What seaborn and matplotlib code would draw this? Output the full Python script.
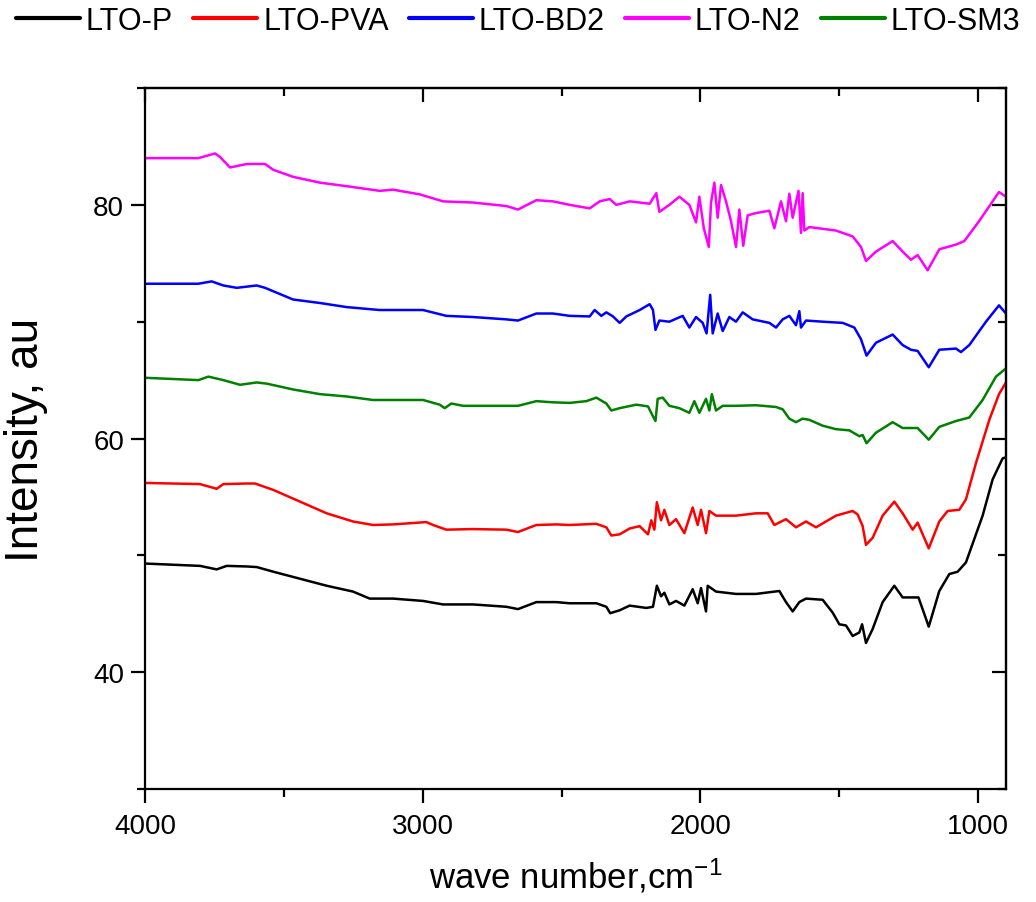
import numpy as np
import pandas as pd
import matplotlib
matplotlib.use("Agg")
import matplotlib.pyplot as plt
import seaborn as sns
from matplotlib.ticker import MultipleLocator, NullFormatter
from matplotlib.lines import Line2D

# ---- data ----
series_names = ["LTO-P", "LTO-PVA", "LTO-BD2", "LTO-N2", "LTO-SM3"]
series_colors = ["#000000", "#ff0000", "#0000ff", "#ff00ff", "#008000"]

lto_p_x = [4000, 3802, 3742, 3706, 3634, 3598, 3538, 3442, 3346, 3251, 3191, 3107, 2999, 2927, 2819,
           2699, 2657, 2591, 2519, 2471, 2375, 2339, 2325, 2291, 2255, 2195, 2171, 2157, 2142, 2130,
           2112, 2088, 2058, 2028, 2010, 1998, 1980, 1974, 1944, 1872, 1800, 1716, 1692, 1668, 1644,
           1620, 1560, 1524, 1500, 1476, 1452, 1428, 1418, 1404, 1380, 1344, 1302, 1272, 1236, 1215,
           1178, 1140, 1104, 1074, 1044, 984, 948, 912, 900]
lto_p_y = [49.3, 49.1, 48.8, 49.1, 49.05, 49.0, 48.6, 48.0, 47.4, 46.9, 46.3, 46.3, 46.1, 45.8, 45.8,
           45.6, 45.4, 46.0, 46.0, 45.9, 45.9, 45.6, 45.05, 45.3, 45.7, 45.5, 45.6, 47.4, 46.5, 46.8,
           45.8, 46.1, 45.7, 47.1, 45.9, 47.2, 45.2, 47.4, 46.9, 46.7, 46.7, 46.95, 46.0, 45.2, 46.0,
           46.3, 46.2, 45.1, 44.1, 44.0, 43.1, 43.4, 44.1, 42.5, 43.7, 46.0, 47.4, 46.4, 46.4, 46.4,
           43.9, 46.95, 48.4, 48.6, 49.4, 53.4, 56.5, 58.3, 58.4]

lto_pva_x = [4000, 3802, 3742, 3718, 3634, 3604, 3538, 3442, 3346, 3251, 3179, 3107, 2987, 2963, 2915,
             2819, 2699, 2657, 2591, 2519, 2471, 2375, 2339, 2321, 2291, 2255, 2219, 2189, 2177, 2166,
             2157, 2142, 2130, 2112, 2088, 2058, 2028, 2010, 1998, 1980, 1968, 1944, 1872, 1800, 1758,
             1734, 1692, 1656, 1620, 1584, 1512, 1452, 1434, 1416, 1404, 1380, 1344, 1302, 1272, 1236,
             1218, 1178, 1140, 1110, 1068, 1044, 1008, 960, 925, 900]
lto_pva_y = [56.2, 56.1, 55.7, 56.1, 56.15, 56.15, 55.6, 54.6, 53.6, 52.9, 52.6, 52.65, 52.85, 52.6, 52.2,
             52.25, 52.2, 52.0, 52.6, 52.65, 52.6, 52.7, 52.4, 51.7, 51.8, 52.3, 52.5, 51.8, 53.0, 52.2,
             54.55, 53.0, 53.9, 52.6, 53.1, 51.9, 54.1, 52.6, 53.9, 51.9, 53.8, 53.4, 53.4, 53.6, 53.6,
             52.6, 53.1, 52.4, 52.9, 52.4, 53.4, 53.8, 53.5, 52.5, 50.9, 51.5, 53.4, 54.6, 53.6, 52.2,
             52.8, 50.6, 52.9, 53.8, 53.9, 54.8, 57.9, 61.6, 63.8, 64.8]

lto_bd2_x = [4000, 3808, 3760, 3718, 3670, 3598, 3568, 3467, 3370, 3274, 3155, 2999, 2915, 2819, 2699,
             2657, 2591, 2531, 2471, 2399, 2381, 2357, 2339, 2315, 2291, 2267, 2219, 2183, 2171, 2162,
             2148, 2112, 2064, 2040, 2016, 1992, 1978, 1965, 1956, 1938, 1920, 1896, 1872, 1848, 1812,
             1752, 1728, 1704, 1680, 1656, 1644, 1638, 1620, 1560, 1488, 1446, 1422, 1402, 1368, 1308,
             1272, 1242, 1218, 1178, 1140, 1080, 1062, 1032, 972, 925, 900]
lto_bd2_y = [73.25, 73.25, 73.45, 73.1, 72.9, 73.1, 72.9, 71.9, 71.6, 71.25, 71.0, 71.0, 70.5, 70.4, 70.2,
             70.1, 70.7, 70.7, 70.5, 70.45, 71.0, 70.5, 70.8, 70.45, 69.9, 70.45, 71.0, 71.5, 71.0, 69.3,
             70.1, 70.0, 70.5, 69.5, 70.4, 69.9, 69.0, 72.3, 69.0, 70.7, 69.2, 70.4, 70.0, 70.8, 70.2,
             69.9, 69.5, 70.2, 70.5, 69.7, 70.9, 69.5, 70.1, 70.0, 69.9, 69.5, 68.5, 67.1, 68.2, 68.9,
             68.0, 67.6, 67.5, 66.1, 67.6, 67.7, 67.4, 68.0, 70.0, 71.4, 70.7]

lto_n2_x = [4000, 3808, 3748, 3730, 3694, 3634, 3568, 3538, 3467, 3370, 3274, 3155, 3107, 3011, 2927,
            2819, 2699, 2657, 2591, 2531, 2471, 2399, 2363, 2327, 2303, 2255, 2183, 2159, 2148, 2112,
            2076, 2040, 2016, 2004, 1988, 1970, 1962, 1950, 1938, 1926, 1908, 1890, 1872, 1860, 1846,
            1830, 1800, 1752, 1734, 1710, 1692, 1680, 1668, 1647, 1638, 1632, 1626, 1608, 1512, 1452,
            1422, 1404, 1368, 1308, 1272, 1242, 1218, 1182, 1140, 1080, 1050, 997, 925, 900]
lto_n2_y = [84.0, 84.0, 84.4, 84.1, 83.2, 83.5, 83.5, 83.0, 82.4, 81.9, 81.6, 81.2, 81.3, 80.9, 80.3,
            80.2, 79.9, 79.6, 80.4, 80.3, 80.0, 79.7, 80.3, 80.5, 80.0, 80.3, 80.1, 81.0, 79.4, 80.0,
            80.7, 80.0, 78.5, 80.7, 78.0, 76.4, 80.2, 81.9, 78.9, 81.7, 80.3, 78.6, 76.4, 79.6, 76.5,
            79.1, 79.3, 79.5, 78.0, 80.3, 78.6, 80.95, 78.9, 81.2, 77.6, 81.0, 77.8, 78.1, 77.8, 77.3,
            76.4, 75.2, 76.0, 76.9, 76.0, 75.3, 75.7, 74.4, 76.2, 76.6, 76.9, 78.6, 81.1, 80.7]

lto_sm3_x = [4000, 3808, 3772, 3718, 3658, 3598, 3562, 3467, 3370, 3274, 3179, 2999, 2939, 2921, 2897,
             2855, 2699, 2657, 2591, 2531, 2471, 2411, 2375, 2339, 2321, 2291, 2231, 2189, 2171, 2162,
             2154, 2136, 2112, 2076, 2040, 2022, 2004, 1980, 1968, 1959, 1944, 1920, 1872, 1800, 1728,
             1704, 1680, 1656, 1632, 1608, 1560, 1512, 1464, 1428, 1416, 1402, 1368, 1308, 1272, 1218,
             1178, 1140, 1080, 1032, 984, 936, 900]
lto_sm3_y = [65.2, 65.0, 65.3, 65.0, 64.6, 64.8, 64.7, 64.2, 63.8, 63.6, 63.3, 63.3, 62.9, 62.6, 63.0,
             62.8, 62.8, 62.8, 63.2, 63.1, 63.05, 63.2, 63.5, 63.0, 62.4, 62.6, 62.9, 62.75, 61.9, 61.5,
             63.4, 63.5, 62.8, 62.6, 62.2, 63.2, 62.2, 63.4, 62.4, 63.8, 62.4, 62.8, 62.8, 62.85, 62.7,
             62.5, 61.7, 61.4, 61.7, 61.6, 61.1, 60.8, 60.7, 60.2, 60.3, 59.6, 60.5, 61.4, 60.9, 60.9,
             59.9, 61.0, 61.5, 61.8, 63.3, 65.3, 66.0]

x_major_ticks = [4000, 3000, 2000, 1000]
y_major_ticks = [40, 60, 80]
x_label = r"wave number,cm$^{\mathregular{-1}}$"
y_label = "Intensity, au"

# ---- long-form table ----
xs = [lto_p_x, lto_pva_x, lto_bd2_x, lto_n2_x, lto_sm3_x]
ys = [lto_p_y, lto_pva_y, lto_bd2_y, lto_n2_y, lto_sm3_y]
frames = [pd.DataFrame({"wn": x, "I": y, "sample": n}) for n, x, y in zip(series_names, xs, ys)]
df = pd.concat(frames, ignore_index=True)

sns.set_theme(style="ticks")
plt.rcParams["font.family"] = ["Liberation Sans", "DejaVu Sans"]
plt.rcParams["text.color"] = "black"
plt.rcParams["axes.labelcolor"] = "black"
plt.rcParams["xtick.color"] = "black"
plt.rcParams["ytick.color"] = "black"
plt.rcParams["mathtext.default"] = "regular"

fig = plt.figure(figsize=(10.36, 9.03), dpi=100)
ax = fig.add_axes([0.140, 0.1251, 0.831, 0.7763])

sns.lineplot(data=df, x="wn", y="I", hue="sample", hue_order=series_names,
             palette=dict(zip(series_names, series_colors)), estimator=None,
             linewidth=1.8, ax=ax, legend=False)

ax.set_xlim(4000, 900)
ax.set_ylim(30, 90)
ax.set_xticks(x_major_ticks)
ax.set_yticks(y_major_ticks)
ax.xaxis.set_minor_locator(MultipleLocator(500))
ax.yaxis.set_minor_locator(MultipleLocator(10))
ax.tick_params(which="major", direction="out", length=10, width=1.6, labelsize=20,
               color="black", labelcolor="black")
ax.tick_params(which="minor", direction="out", length=6, width=1.6, color="black")
ax.tick_params(axis="x", pad=7)
ax.tick_params(axis="y", pad=5)
for s in ax.spines.values():
    s.set_linewidth(1.6)
    s.set_color("black")
    s.set_visible(True)

# mirrored inward ticks on top and right
secx = ax.secondary_xaxis("top")
secx.set_xticks(x_major_ticks)
secx.xaxis.set_minor_locator(MultipleLocator(500))
secx.xaxis.set_major_formatter(NullFormatter())
secx.tick_params(which="major", direction="in", length=10, width=1.6, color="black")
secx.tick_params(which="minor", direction="in", length=6, width=1.6, color="black")
secx.spines["top"].set_linewidth(1.6)

secy = ax.secondary_yaxis("right")
secy.set_yticks(y_major_ticks)
secy.yaxis.set_minor_locator(MultipleLocator(10))
secy.yaxis.set_major_formatter(NullFormatter())
secy.tick_params(which="major", direction="in", length=10, width=1.6, color="black")
secy.tick_params(which="minor", direction="in", length=6, width=1.6, color="black")
secy.spines["right"].set_linewidth(1.6)

ax.set_xlabel(x_label, fontsize=25, labelpad=12, color="black")
ax.set_ylabel(y_label, fontsize=33, color="black")
ax.yaxis.set_label_coords(-0.113, 0.5)

handles = [Line2D([], [], color=c, linewidth=3) for c in series_colors]
fig.legend(handles, series_names, loc="upper center", bbox_to_anchor=(0.5, 1.008),
           ncol=5, frameon=False, fontsize=22, handlelength=2.1, handletextpad=0.2,
           columnspacing=0.65, borderaxespad=0.05, labelcolor="black")

fig.savefig("out.png", dpi=100)
